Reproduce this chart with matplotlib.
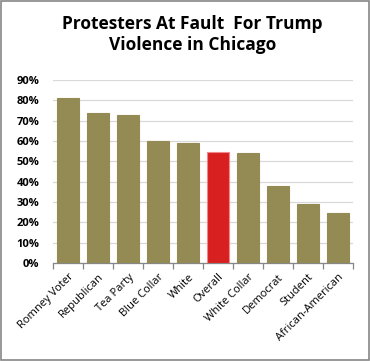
import matplotlib.pyplot as plt
import numpy as np
from matplotlib.patches import Rectangle
from matplotlib.ticker import FixedLocator, PercentFormatter

CATEGORIES = ["Romney Voter", "Republican", "Tea Party", "Blue Collar", "White",
              "Overall", "White Collar", "Democrat", "Student", "African-American"]
VALUES = [81.0, 73.9, 72.8, 60.0, 59.1, 54.5, 54.1, 37.9, 29.1, 24.7]
HIGHLIGHT = "Overall"

OLIVE = "#948A54"
RED = "#D92020"

plt.rcParams["font.family"] = ["Open Sans", "DejaVu Sans"]

fig = plt.figure(figsize=(3.70, 3.61), dpi=100)
ax = fig.add_axes([0.144, 0.271, 0.810, 0.507])

x = np.arange(len(CATEGORIES))
colors = [RED if c == HIGHLIGHT else OLIVE for c in CATEGORIES]
edges = ["#EE8A8A" if c == HIGHLIGHT else OLIVE for c in CATEGORIES]
ax.bar(x, VALUES, width=0.74, color=colors, edgecolor=edges, linewidth=0.8, zorder=3)

ax.set_xlim(-0.5, len(CATEGORIES) - 0.5)
ax.set_ylim(0, 90)
ax.set_yticks(np.arange(0, 91, 10))
ax.yaxis.set_major_formatter(PercentFormatter(decimals=0))
ax.grid(axis="y", color="#D9D9D9", linewidth=0.9, zorder=0)

ax.set_xticks(x)
ax.set_xticklabels(CATEGORIES, rotation=45, ha="right", rotation_mode="anchor", fontsize=8)
ax.tick_params(axis="x", which="major", length=0, pad=6)
ax.xaxis.set_minor_locator(FixedLocator(np.arange(-0.5, len(CATEGORIES), 1)))
ax.tick_params(axis="x", which="minor", length=4, color="#868686", width=0.9)
ax.tick_params(axis="y", length=0, pad=10)
for lbl in ax.get_yticklabels():
    lbl.set_fontweight("bold")
    lbl.set_fontsize(8)

for side in ["left", "right", "top"]:
    ax.spines[side].set_visible(False)
ax.spines["bottom"].set_color("#868686")
ax.spines["bottom"].set_linewidth(0.9)

fig.text(0.52, 0.905, "Protesters At Fault  For Trump\nViolence in Chicago",
         ha="center", va="center", fontsize=12.5, fontweight="bold", linespacing=1.25)

fig.patches.append(Rectangle((0.003, 0.003), 0.994, 0.994, transform=fig.transFigure,
                             fill=False, edgecolor="#868686", linewidth=1.2))

fig.savefig("out.png", dpi=100)
